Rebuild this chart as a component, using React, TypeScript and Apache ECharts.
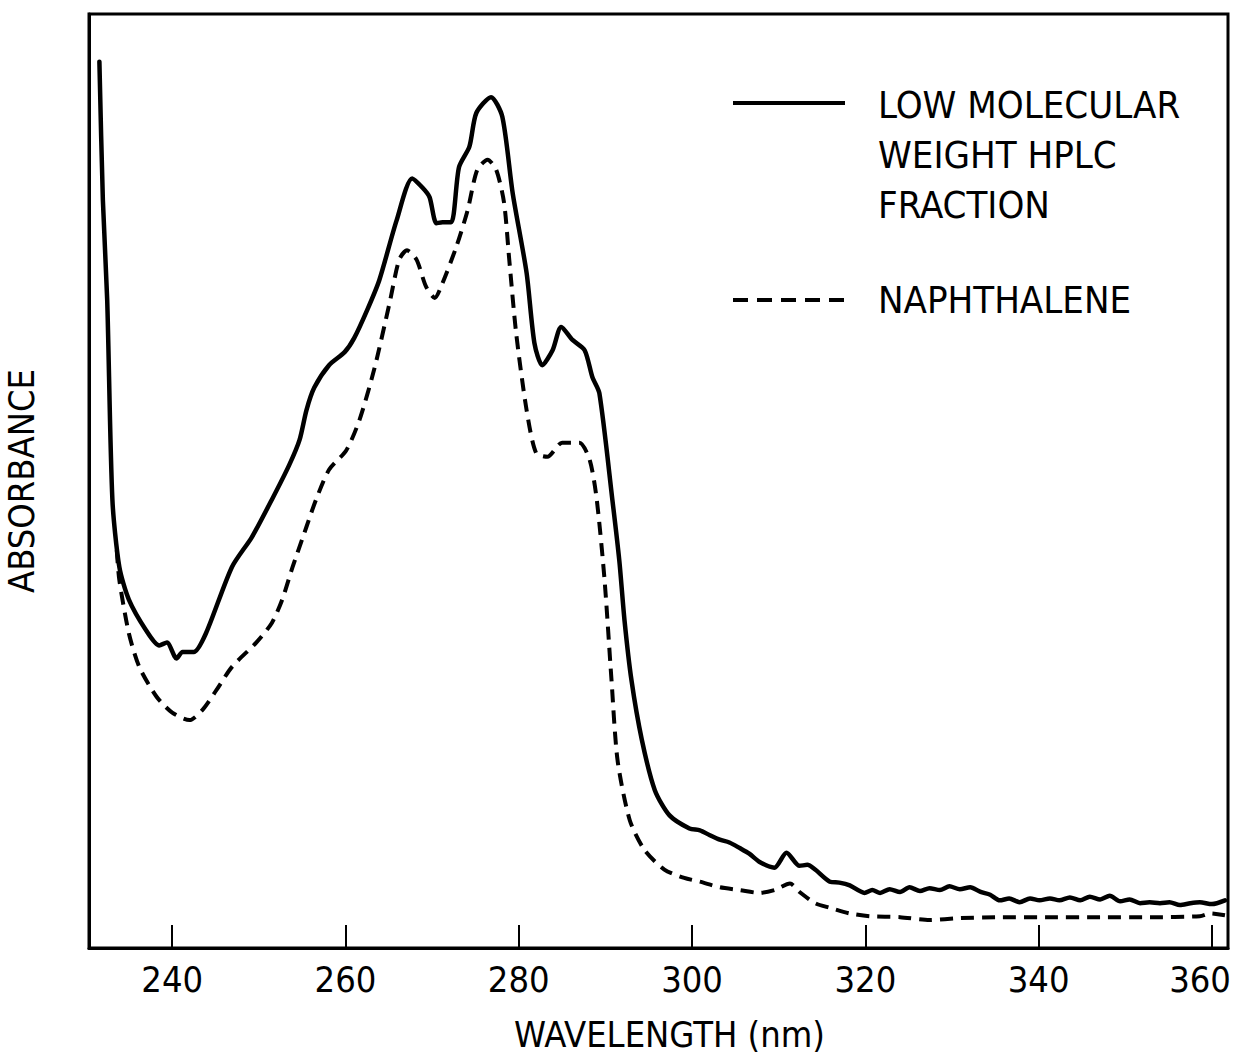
import React, { useEffect, useRef } from "react";
import * as echarts from "echarts";

// Wavelength (nm) and relative absorbance
const hplcWavelength = [231.6, 232.0, 232.5, 233.1, 233.9, 235.0, 237.0, 238.5, 239.4, 240.5, 241.2, 242.5, 243.9, 246.9, 249.2, 251.5, 253.5, 254.7, 255.5, 256.4, 258.1, 259.9, 261.0, 262.5, 263.9, 265.9, 267.7, 268.9, 269.7, 270.5, 271.2, 272.2, 273.1, 274.3, 275.1, 276.8, 278.1, 279.3, 280.9, 281.8, 282.7, 283.9, 284.9, 286.2, 287.6, 288.5, 289.3, 290.8, 291.6, 292.2, 293.0, 294.2, 295.7, 297.4, 299.7, 300.9, 302.0, 303.2, 304.3, 305.5, 306.6, 307.8, 309.5, 310.9, 312.4, 313.3, 314.2, 315.9, 317.0, 318.2, 319.9, 320.8, 321.7, 322.8, 324.0, 325.1, 326.3, 327.4, 328.6, 329.7, 330.9, 332.1, 333.3, 334.4, 335.5, 336.6, 337.8, 339.0, 340.1, 341.3, 342.4, 343.6, 344.8, 345.9, 347.1, 348.2, 349.4, 350.5, 351.7, 352.8, 354.0, 355.1, 356.3, 357.5, 358.6, 360.0, 361.5];
const hplcAbsorbance = [94.9, 80.1, 69.4, 48.0, 40.8, 37.3, 34.0, 32.4, 32.7, 31.0, 31.7, 31.7, 33.7, 40.8, 44.0, 48.0, 51.7, 54.4, 57.6, 60.0, 62.4, 63.8, 65.3, 68.3, 71.5, 77.9, 82.4, 81.4, 80.4, 77.6, 77.7, 77.7, 83.6, 85.8, 89.4, 91.1, 89.0, 80.8, 72.3, 64.8, 62.4, 64.0, 66.5, 65.1, 64.0, 61.1, 59.4, 48.0, 41.5, 35.1, 28.7, 22.3, 16.9, 14.2, 12.8, 12.6, 12.1, 11.6, 11.3, 10.7, 10.1, 9.2, 8.6, 10.2, 8.8, 8.9, 8.4, 7.1, 7.0, 6.7, 5.9, 6.2, 5.9, 6.3, 6.0, 6.5, 6.1, 6.4, 6.2, 6.6, 6.3, 6.5, 6.0, 5.7, 5.1, 5.3, 4.9, 5.3, 5.1, 5.3, 5.1, 5.4, 5.1, 5.5, 5.2, 5.6, 5.0, 5.2, 4.8, 4.9, 4.8, 4.9, 4.6, 4.8, 4.9, 4.7, 5.1];

const naphWavelength = [233.6, 233.9, 235.0, 236.2, 238.2, 240.0, 242.0, 243.5, 245.1, 246.9, 249.7, 251.5, 252.7, 253.9, 255.5, 256.6, 258.1, 260.1, 261.6, 263.3, 265.1, 266.2, 267.1, 268.2, 269.3, 270.3, 271.2, 272.8, 274.1, 275.2, 276.4, 277.4, 278.3, 278.9, 279.7, 280.9, 282.0, 283.3, 285.0, 287.0, 288.2, 289.0, 289.9, 290.7, 291.4, 292.8, 294.5, 296.8, 299.1, 300.9, 303.2, 305.5, 307.8, 309.5, 311.3, 312.4, 314.2, 315.9, 318.2, 320.5, 324.0, 327.4, 330.9, 335.5, 341.3, 347.1, 352.8, 358.6, 359.8, 361.5];
const naphAbsorbance = [42.6, 39.4, 33.7, 30.1, 26.9, 25.2, 24.4, 25.5, 27.6, 30.1, 32.7, 34.8, 37.3, 40.8, 45.1, 48.0, 51.2, 53.3, 56.5, 61.9, 69.1, 73.7, 74.7, 73.7, 70.8, 69.6, 71.2, 75.1, 79.0, 83.3, 84.4, 83.3, 79.8, 73.7, 65.8, 57.6, 53.0, 52.6, 54.1, 54.1, 52.2, 48.0, 39.4, 28.7, 20.1, 13.7, 10.5, 8.4, 7.5, 7.1, 6.5, 6.2, 5.9, 6.2, 6.9, 6.0, 4.8, 4.3, 3.7, 3.4, 3.3, 3.0, 3.2, 3.3, 3.3, 3.3, 3.3, 3.4, 3.7, 3.5];

const xTickValues = [240, 260, 280, 300, 320, 340, 360];
const legendSolidLines = ["LOW MOLECULAR", "WEIGHT HPLC", "FRACTION"];
const legendDashedLine = "NAPHTHALENE";

const FONT = "'Liberation Sans Narrow', 'DejaVu Sans Condensed', 'Roboto Condensed', 'DejaVu Sans', sans-serif";

export default function App() {
  const ref = useRef<HTMLDivElement>(null);
  useEffect(() => {
    document.body.style.margin = "0";
    const chart = echarts.init(ref.current!, null, { renderer: "svg" });
    const pair = (xs: number[], ys: number[]) => xs.map((x, i) => [x, ys[i]]);
    const lastTick = xTickValues[xTickValues.length - 1];
    chart.setOption({
      animation: false,
      backgroundColor: "#fff",
      grid: {
        left: 89,
        right: 6,
        top: 14,
        bottom: 111,
        show: true,
        borderColor: "#000",
        borderWidth: 3,
        outerBoundsMode: "none",
        containLabel: false,
      },
      xAxis: {
        type: "value",
        min: 230.4,
        max: 361.85,
        name: "WAVELENGTH (nm)",
        nameLocation: "middle",
        nameGap: 68,
        nameTextStyle: { fontFamily: FONT, fontSize: 36, color: "#000", padding: [0, 0, 0, 22] },
        axisLine: { show: true, lineStyle: { color: "#000", width: 3 } },
        axisTick: { show: true, inside: true, length: 23, customValues: xTickValues, lineStyle: { color: "#000", width: 2 } },
        axisLabel: {
          customValues: xTickValues,
          fontFamily: FONT,
          fontSize: 36,
          color: "#000",
          margin: 13,
          formatter: (v: number) => (v === lastTick ? `{last|${v}}` : String(v)),
          rich: {
            last: { width: 38, align: "right", fontFamily: FONT, fontSize: 36, color: "#000" },
          },
        },
        splitLine: { show: false },
      },
      yAxis: {
        type: "value",
        min: 0,
        max: 100,
        name: "ABSORBANCE",
        nameLocation: "middle",
        nameGap: 50,
        nameRotate: 90,
        nameTextStyle: { fontFamily: FONT, fontSize: 36, color: "#000" },
        axisLine: { show: true, lineStyle: { color: "#000", width: 3 } },
        axisTick: { show: false },
        axisLabel: { show: false },
        splitLine: { show: false },
      },
      series: [
        {
          name: "LOW MOLECULAR WEIGHT HPLC FRACTION",
          type: "line",
          data: pair(hplcWavelength, hplcAbsorbance),
          showSymbol: false,
          smooth: 0.25,
          lineStyle: { color: "#000", width: 4.5, type: "solid", cap: "round", join: "round" },
        },
        {
          name: "NAPHTHALENE",
          type: "line",
          data: pair(naphWavelength, naphAbsorbance),
          showSymbol: false,
          smooth: 0.25,
          lineStyle: { color: "#000", width: 4, type: [13, 8], join: "round" },
        },
      ],
      graphic: [
        { type: "line", shape: { x1: 733, y1: 103, x2: 845, y2: 103 }, style: { stroke: "#000", lineWidth: 4 } },
        ...legendSolidLines.map((t, i) => ({
          type: "text",
          x: 878,
          y: 105 + i * 50,
          style: { text: t, font: `38px ${FONT}`, fill: "#000", textVerticalAlign: "middle" },
        })),
        { type: "line", shape: { x1: 733, y1: 300, x2: 845, y2: 300 }, style: { stroke: "#000", lineWidth: 4, lineDash: [15, 9] } },
        {
          type: "text",
          x: 878,
          y: 300,
          style: { text: legendDashedLine, font: `38px ${FONT}`, fill: "#000", textVerticalAlign: "middle" },
        },
      ],
    });
    return () => chart.dispose();
  }, []);
  return <div ref={ref} style={{ width: 1234, height: 1059 }} />;
}
